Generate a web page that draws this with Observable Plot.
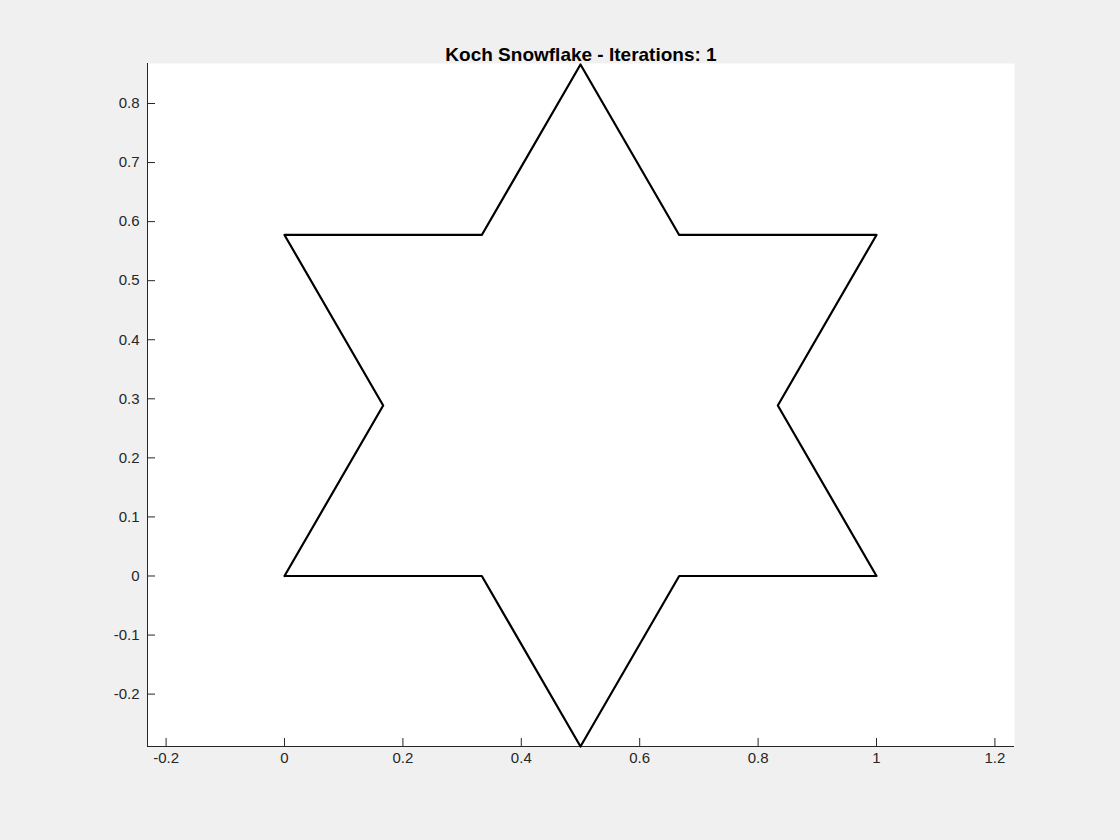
<!DOCTYPE html>
<html>
<head>
<meta charset="utf-8">
<script src="https://cdn.jsdelivr.net/npm/d3@7"></script>
<script src="https://cdn.jsdelivr.net/npm/@observablehq/plot@0.6"></script>
<style>
  html, body { margin: 0; background: #f0f0f0; }
  #chart { width: 1120px; height: 840px; }
</style>
</head>
<body>
<div id="chart"></div>
<script>
// vértices del copo de Koch, iteración 1
const px = [0, 0.3333, 0.5, 0.6667, 1, 0.8333, 1, 0.6667, 0.5, 0.3333, 0, 0.1667, 0];
const py = [0, 0, -0.2887, 0, 0, 0.2887, 0.5774, 0.5774, 0.866, 0.5774, 0.5774, 0.2887, 0];
const xTicks = [-0.2, 0, 0.2, 0.4, 0.6, 0.8, 1, 1.2];
const yTicks = [-0.2, -0.1, 0, 0.1, 0.2, 0.3, 0.4, 0.5, 0.6, 0.7, 0.8];
const titulo = 'Koch Snowflake - Iterations: 1';

const puntos = px.map((x, i) => ({x, y: py[i]}));
const xDom = [-0.2314, 1.2331];
const yDom = [-0.2887, 0.8677];

const chart = Plot.plot({
  width: 1120,
  height: 840,
  marginLeft: 147,
  marginRight: 106,
  marginTop: 63,
  marginBottom: 94,
  style: {background: 'transparent', fontFamily: 'Liberation Sans, Arial, sans-serif', fontSize: '15px', color: '#262626'},
  x: {domain: xDom, ticks: xTicks, tickFormat: d => String(+d.toFixed(1)), label: null},
  y: {domain: yDom, ticks: yTicks, tickFormat: d => String(+d.toFixed(1)), label: null},
  marks: [
    Plot.frame({fill: 'white', stroke: null}),
    Plot.axisX({ticks: xTicks, tickSize: -8, tickPadding: 14, tickFormat: d => String(+d.toFixed(1)), label: null, stroke: '#262626'}),
    Plot.axisY({ticks: yTicks, tickSize: -8, tickPadding: 16, tickFormat: d => String(+d.toFixed(1)), label: null, stroke: '#262626'}),
    Plot.ruleX([xDom[0]], {stroke: '#262626'}),
    Plot.ruleY([yDom[0]], {stroke: '#262626'}),
    Plot.line(puntos, {x: 'x', y: 'y', stroke: 'black', strokeWidth: 2.2, curve: 'linear'}),
    Plot.text([titulo], {frameAnchor: 'top', dy: -16, fontWeight: 'bold', fontSize: 19, fill: 'black'})
  ]
});

d3.select('#chart').append(() => chart);
</script>
</body>
</html>
